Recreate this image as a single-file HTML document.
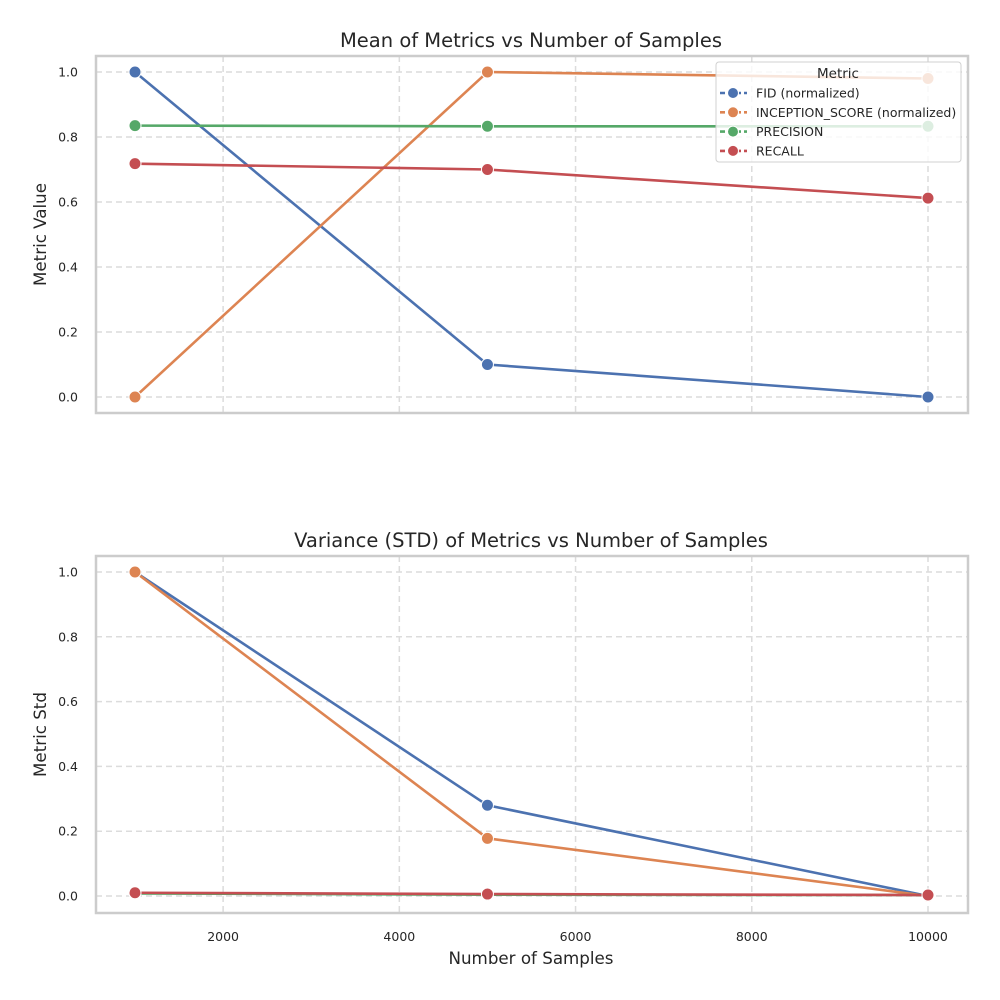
<!DOCTYPE html>
<html><head><meta charset="utf-8"><style>
html,body{margin:0;padding:0;background:#fff;}
svg{display:block;font-family:"DejaVu Sans","Liberation Sans",sans-serif;}
</style></head><body>
<svg id="chart" width="1000" height="1000" viewBox="0 0 1000 1000"></svg>
<script>
const samples = [1000, 5000, 10000];
const seriesNames = ["FID (normalized)", "INCEPTION_SCORE (normalized)", "PRECISION", "RECALL"];
const colors = ["#4c72b0", "#dd8452", "#55a868", "#c44e52"];
const meanFID = [1.0, 0.1, 0.0];
const meanIS = [0.0, 1.0, 0.98];
const meanPrecision = [0.835, 0.833, 0.833];
const meanRecall = [0.718, 0.700, 0.612];
const stdFID = [1.0, 0.28, 0.0];
const stdIS = [1.0, 0.178, 0.0];
const stdPrecision = [0.008, 0.004, 0.003];
const stdRecall = [0.010, 0.006, 0.003];
const xTicks = [2000, 4000, 6000, 8000, 10000];
const yTicks = [0.0, 0.2, 0.4, 0.6, 0.8, 1.0];

const NS = "http://www.w3.org/2000/svg";
const svg = document.getElementById("chart");
function el(tag, attrs, parent, text) {
  const e = document.createElementNS(NS, tag);
  for (const k in attrs) e.setAttribute(k, attrs[k]);
  if (text !== undefined) e.textContent = text;
  (parent || svg).appendChild(e);
  return e;
}
const L = 96, R = 968;
const xs = v => 135 + (v - 1000) * (928 - 135) / 9000;

function panel(top, bottom, y0, y1, title, ylabel, data, showX, showLegend, key) {
  const ys = v => y0 + (y1 - y0) * v;
  const g = el("g", {});
  
  
  xTicks.forEach(t => {
    const l = el("line", {x1: xs(t), x2: xs(t), y1: top, y2: bottom, stroke: "#dcdcdc", "stroke-width": 1.5, "stroke-dasharray": "6,4"}, g);
    
    
  });
  yTicks.forEach(t => {
    const l = el("line", {x1: L, x2: R, y1: ys(t), y2: ys(t), stroke: "#dcdcdc", "stroke-width": 1.5, "stroke-dasharray": "6,4"}, g);
    
    
    const tx = el("text", {x: 78, y: ys(t) + 4.5, "text-anchor": "end", "font-size": 12.5, fill: "#262626"}, g, t.toFixed(1));
    
    
  });
  if (showX) {
    xTicks.forEach(t => {
      const tx = el("text", {x: xs(t), y: bottom + 28, "text-anchor": "middle", "font-size": 12.5, fill: "#262626"}, g, String(t));
      
      
    });
    const xl = el("text", {x: (L + R) / 2 - 1, y: bottom + 51, "text-anchor": "middle", "font-size": 16.7, fill: "#262626"}, g, "Number of Samples");
    
    
  }
  const yl = el("text", {x: 46, y: (top + bottom) / 2, "text-anchor": "middle", "font-size": 16.7, fill: "#262626", transform: `rotate(-90 46 ${(top + bottom) / 2})`}, g, ylabel);
  
  
  const tt = el("text", {x: (L + R) / 2 - 1, y: top - 9, "text-anchor": "middle", "font-size": 19.5, fill: "#262626"}, g, title);
  
  
  data.forEach((vals, i) => {
    const pts = vals.map((v, j) => xs(samples[j]) + "," + ys(v)).join(" ");
    const pl = el("polyline", {points: pts, fill: "none", stroke: colors[i], "stroke-width": 2.6}, g);
    
    
    vals.forEach((v, j) => {
      const c = el("circle", {cx: xs(samples[j]), cy: ys(v), r: 6, fill: colors[i], stroke: "#fff", "stroke-width": 1}, g);
      
      
    });
  });
  const frame = el("rect", {x: L, y: top, width: R - L, height: bottom - top, fill: "none", stroke: "#cccccc", "stroke-width": 2.5}, g);
  
  
  if (showLegend) {
    const lg = el("g", {}, g);
    
    
    el("rect", {x: 716, y: 62, width: 245, height: 100, rx: 3, fill: "#fff", "fill-opacity": 0.8, stroke: "#d0d0d0", "stroke-width": 1}, lg);
    el("text", {x: 838, y: 78, "text-anchor": "middle", "font-size": 13.5, fill: "#262626"}, lg, "Metric");
    seriesNames.forEach((n, i) => {
      const y = 93 + i * 19.3;
      const e = el("g", {}, lg);
      
      
      el("line", {x1: 720, x2: 747, y1: y, y2: y, stroke: colors[i], "stroke-width": 2.6, "stroke-dasharray": "5,3"}, e);
      el("circle", {cx: 733, cy: y, r: 5.5, fill: colors[i], stroke: "#fff", "stroke-width": 1}, e);
      el("text", {x: 756, y: y + 4.5, "font-size": 12.5, fill: "#262626"}, e, n);
    });
  }
}
panel(56, 413, 397, 72, "Mean of Metrics vs Number of Samples", "Metric Value",
  [meanFID, meanIS, meanPrecision, meanRecall], false, true, "mean");
panel(556, 913, 896, 572, "Variance (STD) of Metrics vs Number of Samples", "Metric Std",
  [stdFID, stdIS, stdPrecision, stdRecall], true, false, "std");
</script>
</body></html>
